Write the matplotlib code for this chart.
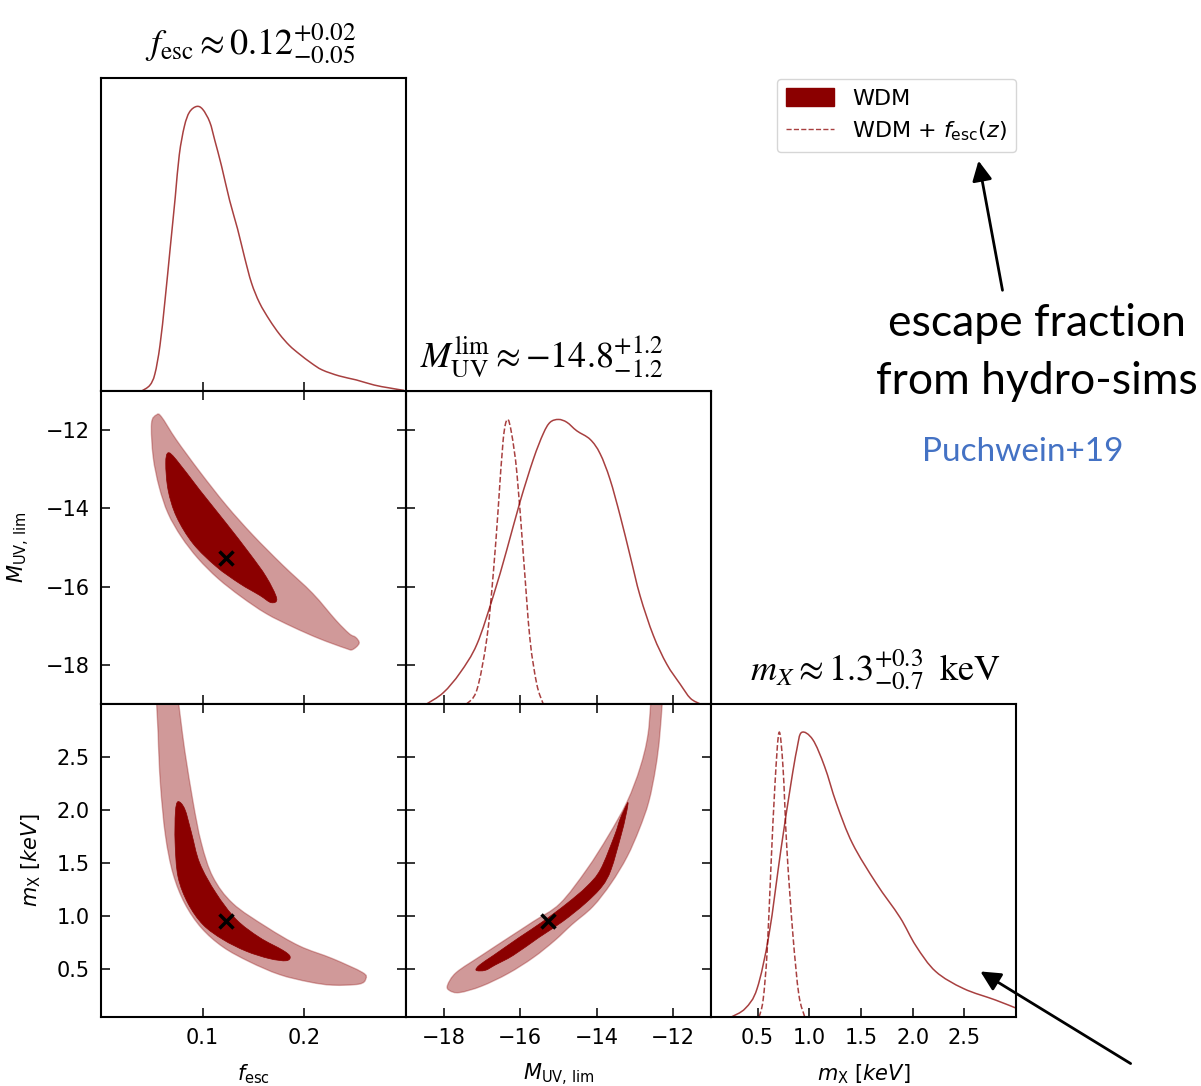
import numpy as np
import matplotlib
matplotlib.use("Agg")
import matplotlib.pyplot as plt
from matplotlib.patches import Patch, PathPatch
from matplotlib.lines import Line2D
from matplotlib.path import Path

DARK = "#8b0000"

# 1D marginals, normalised so that the peak is 1
fesc_x = [0.040, 0.048, 0.053, 0.058, 0.063, 0.068, 0.073, 0.077, 0.082, 0.087, 0.094,
          0.100, 0.107, 0.112, 0.1186, 0.1265, 0.1343, 0.1412, 0.148, 0.1559, 0.1657,
          0.1755, 0.1853, 0.1951, 0.2069, 0.2176, 0.2343, 0.251, 0.2686, 0.2833, 0.298]
fesc_p = [0.00, 0.02, 0.06, 0.16, 0.32, 0.50, 0.68, 0.83, 0.93, 0.98, 1.00,
          0.99, 0.945, 0.88, 0.79, 0.67, 0.57, 0.47, 0.38, 0.31, 0.25,
          0.20, 0.16, 0.13, 0.098, 0.074, 0.053, 0.039, 0.021, 0.011, 0.002]

muv_x = [-18.46, -18.02, -17.58, -17.14, -16.71, -16.36, -16.01, -15.66, -15.40, -15.22,
         -15.00, -14.78, -14.52, -14.17, -13.91, -13.65, -13.38, -13.12, -12.86, -12.51,
         -12.16, -11.81, -11.54, -11.28]
muv_p = [0.00, 0.04, 0.11, 0.21, 0.38, 0.54, 0.71, 0.86, 0.95, 0.99,
         1.00, 0.99, 0.96, 0.93, 0.88, 0.79, 0.66, 0.52, 0.38, 0.24,
         0.14, 0.07, 0.02, 0.00]
muv_fz_x = [-17.41, -17.14, -16.88, -16.71, -16.58, -16.45, -16.34, -16.23, -16.09,
            -15.92, -15.75, -15.57, -15.40]
muv_fz_p = [0.00, 0.05, 0.23, 0.46, 0.69, 0.93, 1.00, 0.95, 0.81, 0.52, 0.23, 0.07, 0.00]

mx_x = [0.246, 0.381, 0.496, 0.611, 0.727, 0.823, 0.880, 0.926, 1.034, 1.149, 1.264,
        1.418, 1.648, 1.878, 2.032, 2.223, 2.492, 2.799, 3.009]
mx_p = [0.00, 0.03, 0.10, 0.29, 0.59, 0.82, 0.94, 1.00, 0.975, 0.88, 0.75,
        0.61, 0.47, 0.35, 0.25, 0.16, 0.10, 0.06, 0.03]
mx_fz_x = [0.515, 0.554, 0.593, 0.630, 0.669, 0.708, 0.746, 0.784, 0.842, 0.899, 0.957]
mx_fz_p = [0.00, 0.06, 0.23, 0.53, 0.82, 1.00, 0.88, 0.59, 0.29, 0.08, 0.00]

# 2D credible regions (outer = 95%, inner = 68%), closed outlines
fm_out_f = [0.0546, 0.0497, 0.0513, 0.0572, 0.0660, 0.0791, 0.0954, 0.1150, 0.1379, 0.1625,
            0.1885, 0.2147, 0.2409, 0.2474, 0.2539, 0.2507, 0.2441, 0.2311, 0.2081, 0.1787,
            0.1493, 0.1232, 0.0971, 0.0742, 0.0595]
fm_out_m = [-11.61, -11.83, -12.68, -13.45, -14.13, -14.73, -15.28, -15.79, -16.26, -16.69,
            -17.03, -17.33, -17.58, -17.61, -17.45, -17.30, -17.20, -16.86, -16.17, -15.45,
            -14.68, -13.92, -13.06, -12.25, -11.66]
fm_in_f = [0.0660, 0.0637, 0.0660, 0.0742, 0.0905, 0.1134, 0.1363, 0.1559, 0.1674, 0.1728,
           0.1625, 0.1461, 0.1232, 0.0971, 0.0742]
fm_in_m = [-12.58, -12.85, -13.53, -14.21, -14.90, -15.49, -15.92, -16.22, -16.41, -16.30,
           -15.75, -15.15, -14.38, -13.53, -12.76]

fx_out_f = [0.0555, 0.0562, 0.0585, 0.0634, 0.0709, 0.0824, 0.0987, 0.1199, 0.1461, 0.1755,
            0.2049, 0.2278, 0.2539, 0.2605, 0.2572, 0.2278, 0.1951, 0.1625, 0.1297, 0.1101,
            0.0987, 0.0905, 0.0824, 0.0720]
fx_out_x = [3.20, 2.72, 2.24, 1.76, 1.40, 1.12, 0.89, 0.71, 0.57, 0.45,
            0.38, 0.35, 0.36, 0.41, 0.47, 0.60, 0.72, 0.90, 1.12, 1.37,
            1.69, 2.08, 2.56, 3.20]
fx_in_f = [0.0758, 0.0732, 0.0729, 0.0758, 0.0856, 0.1003, 0.1199, 0.1428, 0.1657, 0.1821,
           0.1860, 0.1787, 0.1559, 0.1330, 0.1130, 0.0971, 0.0889, 0.0824]
fx_in_x = [2.08, 1.98, 1.69, 1.37, 1.12, 0.92, 0.78, 0.67, 0.60, 0.58,
           0.62, 0.68, 0.80, 0.97, 1.22, 1.50, 1.79, 2.01]

mx_out_m = [-12.52, -12.65, -12.86, -13.20, -13.69, -14.26, -14.96, -15.66, -16.30, -17.02,
            -17.68, -17.91, -17.86, -17.60, -17.02, -16.32, -15.66, -15.10, -14.65, -14.10,
            -13.62, -13.20, -12.88, -12.63, -12.45, -12.34, -12.27]
mx_out_x = [3.20, 2.72, 2.40, 2.08, 1.76, 1.44, 1.12, 0.95, 0.80, 0.63,
            0.47, 0.35, 0.30, 0.28, 0.34, 0.46, 0.61, 0.77, 0.92, 1.09,
            1.31, 1.56, 1.82, 2.08, 2.40, 2.72, 3.20]
mx_in_m = [-13.20, -13.38, -13.53, -13.90, -14.26, -14.78, -15.41, -16.03, -16.71, -17.07,
           -17.16, -16.92, -16.66, -16.19, -15.51, -14.89, -14.30, -13.86, -13.62, -13.36,
           -13.25, -13.18]
mx_in_x = [2.06, 1.92, 1.76, 1.44, 1.28, 1.12, 0.95, 0.80, 0.63, 0.54,
           0.49, 0.49, 0.54, 0.63, 0.80, 0.95, 1.12, 1.28, 1.44, 1.76,
           1.92, 2.05]

best_fesc = 0.123
best_muv = -15.27
best_mx = 0.955

lims = {"fesc": (0.0, 0.3), "muv": (-19, -11), "mx": (0.05, 3.0)}
ticks = {"fesc": [0.1, 0.2], "muv": [-18, -16, -14, -12], "mx": [0.5, 1.0, 1.5, 2.0, 2.5]}
muv_ticklabels = ["\u221218", "\u221216", "\u221214", "\u221212"]
mx_label = r"$m_{\rm X}\ [keV]$"
muv_label = r"$M_{\rm UV,\,lim}$"
fesc_label = r"$f_{\rm esc}$"

W, H = 1201, 1086
fig = plt.figure(figsize=(W / 100, H / 100), dpi=100)


def smooth(xs, ys, closed=False):
    # Catmull-Rom through the read points, drawn as cubic Bezier segments
    p = np.column_stack([xs, ys]).astype(float)
    if closed:
        e = np.vstack([p[-1], p, p[0], p[1]])
    else:
        e = np.vstack([p[0], p, p[-1]])
    verts = [e[1]]
    codes = [Path.MOVETO]
    for i in range(1, len(e) - 2):
        p0, p1, p2, p3 = e[i - 1], e[i], e[i + 1], e[i + 2]
        verts += [p1 + (p2 - p0) / 6, p2 - (p3 - p1) / 6, p2]
        codes += [Path.CURVE4] * 3
    if closed:
        verts.append(e[1])
        codes.append(Path.CLOSEPOLY)
    return Path(verts, codes)


def curve(ax, xs, ys, ls="-"):
    ax.add_patch(PathPatch(smooth(xs, ys), fill=False, edgecolor=DARK, lw=1.1,
                           ls=ls, alpha=0.75))


def make_ax(col, row):
    left = 101 + 305 * col
    top = 78 + 313 * row
    ax = fig.add_axes([left / W, 1 - (top + 313) / H, 305 / W, 313 / H])
    for s in ax.spines.values():
        s.set_linewidth(1.5)
    return ax


def style_2d(ax):
    ax.tick_params(direction="in", top=True, right=True, length=6.5, width=1.1,
                   labelsize=15, pad=8)


def style_1d(ax):
    ax.set_yticks([])
    ax.set_ylim(0, 1.1)
    ax.tick_params(axis="x", direction="in", length=6.5, width=1.1, labelsize=15, pad=8)


def region(ax, xo, yo, xi, yi):
    ax.add_patch(PathPatch(smooth(xo, yo, True), facecolor=DARK, alpha=0.4, lw=0))
    ax.add_patch(PathPatch(smooth(xo, yo, True), fill=False, edgecolor=DARK,
                           alpha=0.3, lw=1))
    ax.add_patch(PathPatch(smooth(xi, yi, True), facecolor=DARK, edgecolor=DARK, lw=0.5))


title_kw = dict(fontsize=26, math_fontfamily="stix", pad=17)

# diagonal: f_esc
ax00 = make_ax(0, 0)
curve(ax00, fesc_x, fesc_p)
ax00.set_xlim(lims["fesc"])
ax00.set_xticks(ticks["fesc"])
ax00.set_xticklabels([])
style_1d(ax00)
ax00.set_title(r"$f_{\rm esc} \approx 0.12^{+0.02}_{-0.05}$", x=0.49, **title_kw)

# f_esc vs M_UV
ax10 = make_ax(0, 1)
region(ax10, fm_out_f, fm_out_m, fm_in_f, fm_in_m)
ax10.plot(best_fesc, best_muv, "x", color="k", ms=10, mew=2.5)
ax10.set_xlim(lims["fesc"])
ax10.set_ylim(lims["muv"])
ax10.set_xticks(ticks["fesc"])
ax10.set_yticks(ticks["muv"])
ax10.set_xticklabels([])
ax10.set_yticklabels(muv_ticklabels)
style_2d(ax10)
ax10.set_ylabel(muv_label, fontsize=15, labelpad=10)

# diagonal: M_UV
ax11 = make_ax(1, 1)
curve(ax11, muv_x, muv_p)
curve(ax11, muv_fz_x, muv_fz_p, ls="--")
ax11.set_xlim(lims["muv"])
ax11.set_xticks(ticks["muv"])
ax11.set_xticklabels([])
style_1d(ax11)
tw = ax11.twinx()
tw.set_ylim(lims["muv"])
tw.set_yticks(ticks["muv"])
tw.yaxis.tick_left()
tw.tick_params(direction="in", length=6.5, width=1.1, labelleft=False, labelright=False)
ax11.set_title(r"$M_{\rm UV}^{\rm lim} \approx {-14.8}^{+1.2}_{-1.2}$", x=0.446,
               **title_kw)

# f_esc vs m_X
ax20 = make_ax(0, 2)
region(ax20, fx_out_f, fx_out_x, fx_in_f, fx_in_x)
ax20.plot(best_fesc, best_mx, "x", color="k", ms=10, mew=2.5)
ax20.set_xlim(lims["fesc"])
ax20.set_ylim(lims["mx"])
ax20.set_xticks(ticks["fesc"])
ax20.set_yticks(ticks["mx"])
style_2d(ax20)
ax20.set_xlabel(fesc_label, fontsize=15, labelpad=10)
ax20.set_ylabel(mx_label, fontsize=15, labelpad=10)

# M_UV vs m_X
ax21 = make_ax(1, 2)
region(ax21, mx_out_m, mx_out_x, mx_in_m, mx_in_x)
ax21.plot(best_muv, best_mx, "x", color="k", ms=10, mew=2.5)
ax21.set_xlim(lims["muv"])
ax21.set_ylim(lims["mx"])
ax21.set_xticks(ticks["muv"])
ax21.set_yticks(ticks["mx"])
ax21.set_xticklabels(muv_ticklabels)
ax21.set_yticklabels([])
style_2d(ax21)
ax21.set_xlabel(muv_label, fontsize=15, labelpad=10)

# diagonal: m_X
ax22 = make_ax(2, 2)
curve(ax22, mx_x, mx_p)
curve(ax22, mx_fz_x, mx_fz_p, ls="--")
ax22.set_xlim(lims["mx"])
ax22.set_xticks(ticks["mx"])
style_1d(ax22)
ax22.set_xlabel(mx_label, fontsize=15, labelpad=10)
ax22.set_title(r"$m_X \approx 1.3^{+0.3}_{-0.7}\;\;{\rm keV}$", x=0.538, **title_kw)

# legend
handles = [Patch(facecolor=DARK, edgecolor=DARK),
           Line2D([], [], color=DARK, lw=1, ls="--", alpha=0.75)]
fig.legend(handles, ["WDM", r"WDM + $f_{\rm esc}(z)$"], loc="upper right",
           bbox_to_anchor=(1016 / W, 1 - 79 / H), fontsize=16, handlelength=2.2,
           handleheight=0.9, borderaxespad=0, fancybox=True)

# overlay for annotations, in pixel coordinates
ov = fig.add_axes([0, 0, 1, 1], facecolor="none")
ov.set_xlim(0, W)
ov.set_ylim(H, 0)
ov.axis("off")
ov.text(1037, 324, "escape fraction", fontsize=32, family="Lato", ha="center", va="center")
ov.text(1037, 381, "from hydro-sims", fontsize=32, family="Lato", ha="center", va="center")
ov.text(1023, 452, "Puchwein+19", fontsize=24, family="Lato", color="#4472c4",
        ha="center", va="center")
ov.annotate("", xy=(978, 158), xytext=(1003, 293),
            arrowprops=dict(arrowstyle="-|>", lw=2, color="k", mutation_scale=30))
ov.annotate("", xy=(978, 970), xytext=(1133, 1065),
            arrowprops=dict(arrowstyle="-|>", lw=2, color="k", mutation_scale=30))

fig.savefig("out.png", dpi=100)
